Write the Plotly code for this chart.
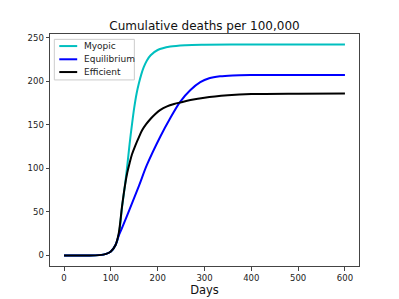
import plotly.graph_objects as go

days_myopic = [0, 25, 50, 75, 90, 100, 110, 117, 124, 130, 135, 140, 145, 150, 155, 160, 165, 170,
               177, 185, 200, 227, 260, 300, 400, 500, 600]
myopic = [0, 0, 0, 0.4, 1.8, 4.5, 12, 24, 56, 80, 103, 128, 150, 170, 186, 198, 208, 216,
          224, 230, 236, 240, 241.6, 242.1, 242.3, 242.3, 242.3]

days_equil = [0, 25, 50, 75, 90, 100, 110, 117, 125, 140, 160, 177, 206, 227, 248, 270, 291,
              310, 333, 360, 400, 500, 600]
equilibrium = [0, 0, 0, 0.4, 1.8, 4.5, 12, 23, 33, 53, 80, 104, 137, 158, 176.5, 190, 199,
               203.5, 205.8, 206.8, 207.2, 207.3, 207.3]

days_eff = [0, 25, 50, 75, 90, 100, 110, 117, 124, 130, 135, 140, 145, 152, 160, 167, 175, 185,
            195, 205, 220, 235, 250, 270, 300, 350, 400, 500, 600]
efficient = [0, 0, 0, 0.4, 1.8, 4.5, 12, 26, 57, 80, 95, 106, 116, 126, 136, 144, 150.5, 157,
             162.5, 167, 171.3, 174, 176, 178.5, 181.3, 184, 185.4, 185.9, 186]

series_names = ["Myopic", "Equilibrium", "Efficient"]
series_colors = ["#00BFBF", "#0000FF", "#000000"]
series_x = [days_myopic, days_equil, days_eff]
series_y = [myopic, equilibrium, efficient]

x_ticks = [0, 100, 200, 300, 400, 500, 600]
y_ticks = [0, 50, 100, 150, 200, 250]

FONT = "DejaVu Sans"
OFF = 8  # page body margin offset in the browser

fig = go.Figure()
for name, col, xs, ys in zip(series_names, series_colors, series_x, series_y):
    fig.add_trace(go.Scatter(x=xs, y=ys, mode="lines", name=name,
                             line=dict(color=col, width=2, shape="spline", smoothing=0.9),
                             showlegend=False))

# Manual matplotlib-style legend (paper coordinates)
fig.add_shape(type="rect", xref="paper", yref="paper", x0=0.014, x1=0.273, y0=0.802, y1=0.977,
              line=dict(color="#cccccc", width=1), fillcolor="rgba(255,255,255,0.8)", layer="above")
leg_y = [0.948, 0.891, 0.836]
for name, col, yy in zip(series_names, series_colors, leg_y):
    fig.add_shape(type="line", xref="paper", yref="paper", x0=0.030, x1=0.088, y0=yy, y1=yy,
                  line=dict(color=col, width=2), layer="above")
    fig.add_annotation(xref="paper", yref="paper", x=0.1036, y=yy, text=name, showarrow=False,
                       xanchor="left", yanchor="middle", font=dict(family=FONT, size=9, color="#222"))

axis_common = dict(showline=True, linecolor="#444", linewidth=1, mirror=True, ticks="outside",
                   ticklen=3.5, tickcolor="#444", showgrid=False, zeroline=False, automargin=False,
                   tickfont=dict(family=FONT, size=8.5, color="#222"))

fig.update_layout(
    width=399, height=299,
    margin=dict(l=50 - OFF, r=40 + OFF, t=34 - OFF, b=33 + OFF),
    paper_bgcolor="white", plot_bgcolor="white",
    title=dict(text="Cumulative deaths per 100,000", x=0.5, xref="paper", xanchor="center",
               y=1 - (26 - OFF) / 299, yanchor="middle", font=dict(family=FONT, size=12, color="#111")),
    xaxis=dict(range=[-30, 630], tickvals=x_ticks, ticktext=[str(v) for v in x_ticks],
               title=dict(text="Days", font=dict(family=FONT, size=11.5, color="#111"), standoff=4),
               **axis_common),
    yaxis=dict(range=[-12.1, 254.4], tickvals=y_ticks, ticktext=[str(v) for v in y_ticks],
               **axis_common),
)

fig.write_html("out.html")
